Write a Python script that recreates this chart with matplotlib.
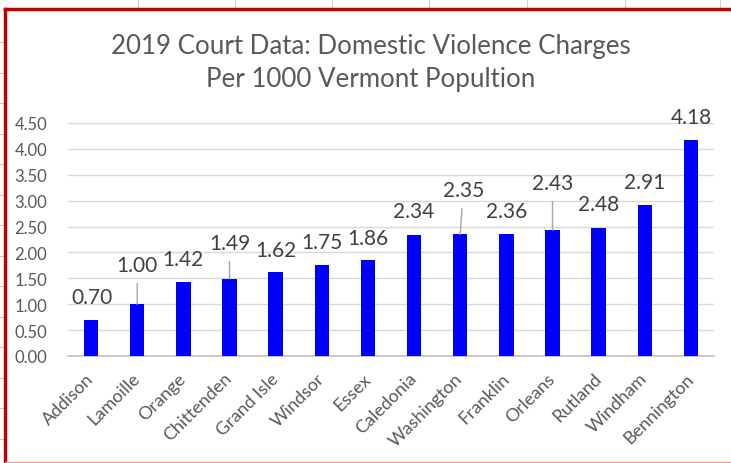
import matplotlib
matplotlib.use("Agg")
import matplotlib.pyplot as plt
from matplotlib.lines import Line2D
import numpy as np

plt.rcParams["font.family"] = ["Lato", "DejaVu Sans"]

COUNTIES = [
    "Addison", "Lamoille", "Orange", "Chittenden", "Grand Isle", "Windsor",
    "Essex", "Caledonia", "Washington", "Franklin", "Orleans", "Rutland",
    "Windham", "Bennington",
]
RATES = [0.70, 1.00, 1.42, 1.49, 1.62, 1.75, 1.86,
         2.34, 2.35, 2.36, 2.43, 2.48, 2.91, 4.18]
Y_TICKS = [0.0, 0.5, 1.0, 1.5, 2.0, 2.5, 3.0, 3.5, 4.0, 4.5]
TITLE_1 = "2019 Court Data: Domestic Violence Charges"
TITLE_2 = "Per 1000 Vermont Popultion"

# label offsets (pixels from bar top) and which ones have leader lines
LABEL_DX = [1, 0, 0, 0, 0, 0, 0, 0, 3, 0, 0, 0, 0, 0]
LABEL_DY = [23, 39, 23, 36, 22, 23, 22, 24, 44, 23, 47, 24, 23, 23]
LEADER   = [False, True, False, True, False, False, False,
            False, True, False, True, False, False, False]

BAR_COLOR  = "#0000ff"
TEXT_GRAY  = "#595959"
LABEL_GRAY = "#404040"
GRID_GRAY  = "#d9d9d9"
RED        = "#c00000"

W, H = 731, 464
fig = plt.figure(figsize=(W / 100, H / 100), dpi=100)
fig.patch.set_facecolor("white")

ax = fig.add_axes([68 / W, 1 - 357 / H, (714 - 68) / W, (357 - 124) / H])
x = np.arange(len(COUNTIES))
ax.bar(x, RATES, width=0.31, color=BAR_COLOR, zorder=3)

ax.set_xlim(-0.5, len(COUNTIES) - 0.5)
ax.set_ylim(0, 4.5)
ax.set_yticks(Y_TICKS)
ax.set_yticklabels([f"{v:.2f}" for v in Y_TICKS], fontsize=12, color=TEXT_GRAY)
ax.set_xticks(x)
ax.set_xticklabels(COUNTIES, rotation=45, ha="right", va="center",
                   rotation_mode="anchor", fontsize=13, color=TEXT_GRAY)
ax.tick_params(axis="both", length=0)
ax.tick_params(axis="y", pad=15)
ax.tick_params(axis="x", pad=14)
ax.grid(True, axis="y", color=GRID_GRAY, linewidth=1, zorder=0)
ax.set_axisbelow(True)
for s in ["left", "right", "top"]:
    ax.spines[s].set_visible(False)
ax.spines["bottom"].set_color("#bfbfbf")
ax.spines["bottom"].set_linewidth(1.2)

for i, v in enumerate(RATES):
    kw = {}
    if LEADER[i]:
        kw["arrowprops"] = dict(arrowstyle="-", color="#a6a6a6", lw=1,
                                shrinkA=4, shrinkB=0)
    ax.annotate(f"{v:.2f}", xy=(i, v), xytext=(LABEL_DX[i], LABEL_DY[i]),
                textcoords="offset pixels", ha="center", va="center",
                fontsize=15, color=LABEL_GRAY, annotation_clip=False, **kw)

fig.text(371 / W, 1 - 47 / H, TITLE_1, ha="center", va="center",
         fontsize=18.6, color=TEXT_GRAY)
fig.text(371 / W, 1 - 80 / H, TITLE_2, ha="center", va="center",
         fontsize=18.6, color=TEXT_GRAY)

# spreadsheet cell lines behind the chart frame
for cx in [138, 235, 332, 429, 527, 625, 720]:
    fig.add_artist(Line2D([cx / W, cx / W], [1, 1 - 9 / H],
                          transform=fig.transFigure, color="#d0d0d0", lw=0.8))
for cy in np.arange(43, 460, 30.5):
    fig.add_artist(Line2D([0, 3 / W], [1 - cy / H, 1 - cy / H],
                          transform=fig.transFigure, color="#c8c8c8", lw=0.8))

# red frame (left and top) and pale bottom edge
fig.add_artist(Line2D([5 / W, 5 / W], [0, 1 - 10 / H],
                      transform=fig.transFigure, color=RED, lw=2.5))
fig.add_artist(Line2D([5 / W, 1], [1 - 10 / H, 1 - 10 / H],
                      transform=fig.transFigure, color=RED, lw=2.5))
fig.add_artist(Line2D([5 / W, 1], [1 - 463 / H, 1 - 463 / H],
                      transform=fig.transFigure, color="#e8a0a0", lw=1))

fig.savefig("out.png", dpi=100)
